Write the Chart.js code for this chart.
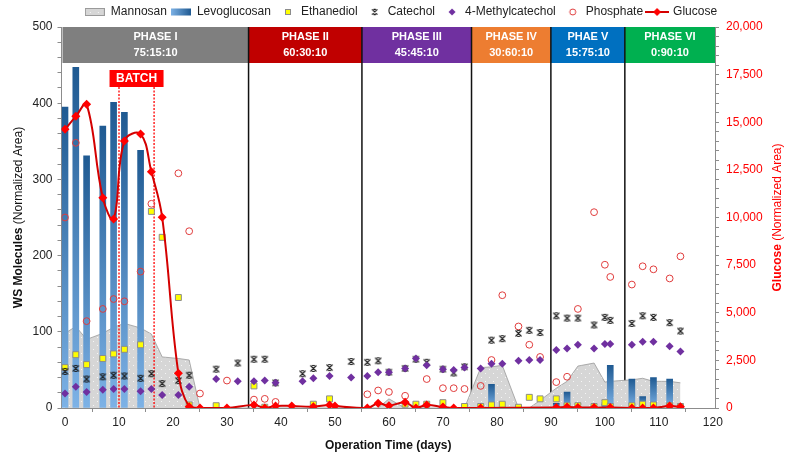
<!DOCTYPE html>
<html>
<head>
<meta charset="utf-8">
<title>WS molecules and glucose per operation phase</title>
<script src="https://cdn.jsdelivr.net/npm/chart.js"></script>
<style>
  body { margin: 0; background: #fff; }
  .chart-box { position: relative; width: 786px; height: 459px; }
</style>
</head>
<body>
<div class="chart-box"><canvas id="phaseChart"></canvas></div>
<script>
const FONT = '"Liberation Sans", Arial, sans-serif';

// axis ticks
const xTicks = [0, 10, 20, 30, 40, 50, 60, 70, 80, 90, 100, 110, 120];
const leftTicks = [0, 100, 200, 300, 400, 500];
const rightTicks = [0, 2500, 5000, 7500, 10000, 12500, 15000, 17500, 20000];

// operating phases (start day, label, feed ratio)
const phaseStart = [0, 34, 55, 75.3, 90, 103.7];
const phaseNames = ['PHASE I', 'PHASE II', 'PHASE III', 'PHASE IV', 'PHAE V', 'PHASE VI'];
const phaseMix = ['75:15:10', '60:30:10', '45:45:10', '30:60:10', '15:75:10', '0:90:10'];
const phaseColors = ['#7f7f7f', '#c00000', '#7030a0', '#ed7d31', '#0070c0', '#00b050'];
const batchDays = [10, 16.5];

// Mannosan (shaded area)
const mannDays = [0, 2, 4, 7, 9, 11, 14, 16, 18, 21, 23, 25, 58, 60, 63, 74, 77, 79, 81, 84, 86, 88, 91, 93, 95, 98, 100, 101, 105, 107, 109, 112, 114];
const mannArea = [98, 107, 90, 98, 106, 111, 105, 97, 67, 65, 63, 0, 0, 12, 0, 0, 53, 54, 56, 0, 0, 10, 26, 35, 55, 59, 34, 35, 37, 39, 35, 35, 33];

// Levoglucosan (bars)
const levoDays = [0, 2, 4, 7, 9, 11, 14, 79, 91, 93, 100, 101, 105, 107, 109, 112];
const levoArea = [395, 447, 331, 370, 401, 388, 338, 31, 6, 21, 5, 56, 38, 15, 40, 38];

// Ethanediol
const ethDays = [0, 2, 4, 7, 9, 11, 14, 16, 18, 21, 23, 28, 35, 37, 46, 49, 63, 65, 67, 70, 74, 77, 79, 81, 84, 86, 88, 91, 93, 95, 98, 100, 101, 105, 107, 109, 112, 114];
const ethArea = [53, 70, 57, 65, 71, 77, 83, 258, 224, 145, 4, 3, 29, 1, 5, 12, 5, 5, 5, 7, 2, 2, 4, 5, 1, 14, 12, 12, 3, 3, 2, 7, 2, 3, 5, 4, 3, 2];

// Catechol
const catDays = [0, 2, 4, 7, 9, 11, 14, 16, 18, 21, 23, 28, 32, 35, 37, 39, 44, 46, 49, 53, 56, 58, 60, 63, 65, 67, 70, 72, 74, 79, 81, 84, 86, 88, 91, 93, 95, 98, 100, 101, 105, 107, 109, 112, 114];
const catArea = [48, 52, 38, 41, 43, 42, 39, 45, 32, 36, 43, 51, 59, 64, 64, 33, 45, 52, 53, 61, 60, 62, 47, 52, 64, 60, 51, 46, 54, 89, 91, 98, 102, 99, 121, 118, 118, 109, 119, 115, 111, 121, 119, 112, 101];

// 4-Methylcatechol
const metDays = [0, 2, 4, 7, 9, 11, 14, 16, 18, 21, 23, 28, 32, 35, 37, 39, 44, 46, 49, 53, 56, 58, 60, 63, 65, 67, 70, 72, 74, 77, 79, 81, 84, 86, 88, 91, 93, 95, 98, 100, 101, 105, 107, 109, 112, 114];
const metArea = [19, 28, 21, 24, 25, 25, 22, 25, 17, 17, 28, 38, 35, 35, 36, 33, 35, 39, 42, 40, 42, 47, 47, 52, 65, 56, 51, 50, 53, 52, 58, 58, 62, 63, 63, 76, 78, 83, 78, 84, 84, 83, 87, 87, 81, 74];

// Phosphate
const phoDays = [0, 2, 4, 7, 9, 11, 14, 16, 21, 23, 25, 30, 35, 37, 39, 56, 58, 60, 63, 67, 70, 72, 74, 77, 79, 81, 84, 86, 88, 91, 93, 95, 98, 100, 101, 105, 107, 109, 112, 114];
const phoArea = [250, 348, 114, 130, 143, 140, 179, 268, 308, 232, 19, 36, 11, 12, 8, 18, 23, 21, 16, 38, 26, 26, 25, 29, 63, 148, 107, 83, 67, 34, 41, 130, 257, 188, 172, 162, 186, 182, 170, 199];

// Glucose (right axis)
const gluDays = [0, 2, 4, 7, 9, 11, 14, 16, 18, 21, 23, 25, 30, 35, 37, 39, 42, 46, 49, 50, 56, 58, 60, 63, 65, 67, 70, 72, 77, 91, 93, 95, 98, 101, 105, 107, 109, 112, 114];
const gluArea = [14630, 15310, 15940, 11040, 9920, 14020, 14380, 12400, 10010, 1820, 70, 0, 0, 160, 0, 105, 105, 70, 160, 105, 0, 245, 120, 300, 0, 160, 50, 0, 0, 30, 50, 30, 20, 20, 0, 0, 0, 100, 60];

const pts = (days, vals) => days.map((d, i) => ({ x: d, y: vals[i] }));
const minorTicks = (max, step) => Array.from({ length: max / step + 1 }, (_, i) => ({ value: i * step }));

// dotted grey fill for the mannosan area
function dotPattern() {
    const c = document.createElement('canvas');
    c.width = 8; c.height = 8;
    const g = c.getContext('2d');
    g.fillStyle = '#d6d6d6';
    g.fillRect(0, 0, 8, 8);
    g.fillStyle = '#f6f6f6';
    g.fillRect(1, 1, 1, 1);
    g.fillRect(5, 5, 1, 1);
    return g.createPattern(c, 'repeat');
}
const mannFill = dotPattern();

// catechol marker: an X with short caps
function drawStar(g, cx, cy, s) {
    g.strokeStyle = '#1a1a1a';
    g.lineWidth = 1.2;
    g.beginPath();
    g.moveTo(cx - s, cy - s); g.lineTo(cx + s, cy + s);
    g.moveTo(cx + s, cy - s); g.lineTo(cx - s, cy + s);
    g.moveTo(cx - s * 0.45, cy - s); g.lineTo(cx + s * 0.45, cy - s);
    g.moveTo(cx - s * 0.45, cy + s); g.lineTo(cx + s * 0.45, cy + s);
    g.stroke();
}

function icon(w, h, draw) {
    const c = document.createElement('canvas');
    c.width = w; c.height = h;
    draw(c.getContext('2d'));
    return c;
}

const starMark = icon(9, 9, g => drawStar(g, 4.5, 4.5, 3));

// legend swatches, one per dataset
const legendIcons = [
    icon(20, 10, g => {
        g.fillStyle = mannFill; g.fillRect(0, 1.5, 20, 7);
        g.strokeStyle = '#9a9a9a'; g.lineWidth = 1; g.strokeRect(0.5, 1.5, 19, 7);
    }),
    icon(20, 10, g => {
        const gr = g.createLinearGradient(0, 0, 20, 0);
        gr.addColorStop(0, '#7db2e6'); gr.addColorStop(1, '#1f5a92');
        g.fillStyle = gr; g.fillRect(0, 1.5, 20, 7);
    }),
    icon(20, 10, g => {
        g.fillStyle = '#ffff00'; g.fillRect(10, 2, 6, 6);
        g.strokeStyle = '#8c8c8c'; g.lineWidth = 1; g.strokeRect(10.5, 2.5, 5, 5);
    }),
    icon(20, 10, g => drawStar(g, 13, 5, 2.6)),
    icon(20, 10, g => {
        g.fillStyle = '#7030a0';
        g.beginPath(); g.moveTo(13, 1.5); g.lineTo(16.5, 5); g.lineTo(13, 8.5); g.lineTo(9.5, 5); g.closePath(); g.fill();
    }),
    icon(20, 10, g => {
        g.strokeStyle = '#e03c3c'; g.lineWidth = 1;
        g.beginPath(); g.arc(13, 5, 3, 0, Math.PI * 2); g.stroke();
    }),
    icon(24, 10, g => {
        g.strokeStyle = '#d40000'; g.lineWidth = 2;
        g.beginPath(); g.moveTo(0, 5); g.lineTo(24, 5); g.stroke();
        g.fillStyle = '#ff0000';
        g.beginPath(); g.moveTo(12, 1); g.lineTo(16, 5); g.lineTo(12, 9); g.lineTo(8, 5); g.closePath(); g.fill();
    })
];

// per-bar vertical gradient, dark at the top
function barGradient(ctx) {
    const chart = ctx.chart;
    const ys = chart.scales.y;
    if (ctx.type !== 'data' || !chart.chartArea || !ys) return '#3f7fbf';
    const top = ys.getPixelForValue(ctx.raw.y);
    const base = ys.getPixelForValue(0);
    const g = chart.ctx.createLinearGradient(0, top, 0, base);
    g.addColorStop(0, '#1f5a92');
    g.addColorStop(1, '#7db2e6');
    return g;
}

// phase header cells and separators
const phaseBands = {
    id: 'phaseBands',
    beforeDatasetsDraw(chart) {
        const { ctx, chartArea: a, scales: { x } } = chart;
        const headH = 36;
        ctx.save();
        ctx.textAlign = 'center';
        ctx.textBaseline = 'middle';
        ctx.font = 'bold 11px ' + FONT;
        for (let i = 0; i < phaseNames.length; i++) {
            const l = i === 0 ? a.left + 1 : x.getPixelForValue(phaseStart[i]);
            const r = i === phaseNames.length - 1 ? a.right : x.getPixelForValue(phaseStart[i + 1]);
            ctx.fillStyle = phaseColors[i];
            ctx.fillRect(l, a.top, r - l, headH);
            ctx.fillStyle = '#ffffff';
            ctx.fillText(phaseNames[i], (l + r) / 2, a.top + 10);
            ctx.fillText(phaseMix[i], (l + r) / 2, a.top + 26);
        }
        ctx.strokeStyle = '#111';
        ctx.lineWidth = 1.5;
        for (let i = 1; i < phaseStart.length; i++) {
            const px = x.getPixelForValue(phaseStart[i]);
            ctx.beginPath();
            ctx.moveTo(px, a.top);
            ctx.lineTo(px, a.bottom);
            ctx.stroke();
        }
        ctx.restore();
    }
};

// batch period: dotted markers behind the bars, label on top
const batchMarks = {
    id: 'batchMarks',
    afterDatasetDraw(chart, args) {
        if (args.index !== 0) return;
        const { ctx, chartArea: a, scales: { x } } = chart;
        ctx.save();
        ctx.strokeStyle = '#ff0000';
        ctx.lineWidth = 1.3;
        ctx.setLineDash([2, 1.5]);
        batchDays.forEach(d => {
            const px = x.getPixelForValue(d);
            ctx.beginPath();
            ctx.moveTo(px, a.top + 60);
            ctx.lineTo(px, a.bottom);
            ctx.stroke();
        });
        ctx.restore();
    },
    afterDatasetsDraw(chart) {
        const { ctx, chartArea: a, scales: { x } } = chart;
        const cx = (x.getPixelForValue(batchDays[0]) + x.getPixelForValue(batchDays[1])) / 2;
        ctx.save();
        ctx.fillStyle = '#ff0000';
        ctx.fillRect(cx - 27, a.top + 43, 54, 17);
        ctx.fillStyle = '#ffffff';
        ctx.font = 'bold 12px ' + FONT;
        ctx.textAlign = 'center';
        ctx.textBaseline = 'middle';
        ctx.fillText('BATCH', cx, a.top + 52);
        ctx.restore();
    }
};

// axis titles (bold name, plain unit)
function mixedTitle(ctx, parts, x, y, rot) {
    ctx.save();
    ctx.translate(x, y);
    ctx.rotate(rot);
    ctx.textBaseline = 'middle';
    ctx.textAlign = 'left';
    let total = 0;
    parts.forEach(p => { ctx.font = p.font; p.w = ctx.measureText(p.text).width; total += p.w; });
    let pos = -total / 2;
    parts.forEach(p => { ctx.font = p.font; ctx.fillStyle = p.color; ctx.fillText(p.text, pos, 0); pos += p.w; });
    ctx.restore();
}

const axisTitles = {
    id: 'axisTitles',
    afterDraw(chart) {
        const { ctx, chartArea: a } = chart;
        const midY = (a.top + a.bottom) / 2;
        mixedTitle(ctx, [
            { text: 'WS Molecules', font: 'bold 12px ' + FONT, color: '#111' },
            { text: ' (Normalized Area)', font: '12px ' + FONT, color: '#111' }
        ], 19, midY, -Math.PI / 2);
        mixedTitle(ctx, [
            { text: 'Glucose', font: 'bold 12px ' + FONT, color: '#ff0000' },
            { text: ' (Normalized Area)', font: '12px ' + FONT, color: '#ff0000' }
        ], 778, midY, -Math.PI / 2);
        mixedTitle(ctx, [
            { text: 'Operation Time (days)', font: 'bold 12px ' + FONT, color: '#111' }
        ], (a.left + a.right) / 2, 446, 0);
    }
};

const tickFont = { family: FONT, size: 12 };
const axisGrey = '#8c8c8c';

new Chart(document.getElementById('phaseChart'), {
    type: 'line',
    data: {
        datasets: [
            {
                label: 'Mannosan', type: 'line', data: pts(mannDays, mannArea),
                fill: 'origin', backgroundColor: mannFill, borderColor: '#9a9a9a', borderWidth: 0.8,
                pointRadius: 0, tension: 0, order: 10
            },
            {
                label: 'Levoglucosan', type: 'bar', data: pts(levoDays, levoArea),
                backgroundColor: barGradient, barThickness: 6, borderWidth: 0, order: 9
            },
            {
                label: 'Ethanediol', type: 'scatter', data: pts(ethDays, ethArea),
                pointStyle: 'rect', pointRadius: 4.2, backgroundColor: '#ffff00',
                borderColor: '#8c8c8c', borderWidth: 1, order: 4
            },
            {
                label: 'Catechol', type: 'scatter', data: pts(catDays, catArea),
                pointStyle: starMark, pointRadius: 4, order: 3
            },
            {
                label: '4-Methylcatechol', type: 'scatter', data: pts(metDays, metArea),
                pointStyle: 'rectRot', pointRadius: 4, backgroundColor: '#7030a0',
                borderColor: '#7030a0', borderWidth: 0, order: 2
            },
            {
                label: 'Phosphate', type: 'scatter', data: pts(phoDays, phoArea),
                pointStyle: 'circle', pointRadius: 3.4, backgroundColor: 'rgba(255,255,255,0)',
                borderColor: '#e03c3c', borderWidth: 1, order: 5
            },
            {
                label: 'Glucose', type: 'line', yAxisID: 'y2', data: pts(gluDays, gluArea),
                borderColor: '#d40000', borderWidth: 2, tension: 0.4, fill: false,
                pointStyle: 'rectRot', pointRadius: 4.5, pointBackgroundColor: '#ff0000',
                pointBorderWidth: 0, order: 1
            }
        ]
    },
    options: {
        responsive: true,
        maintainAspectRatio: false,
        animation: false,
        layout: { padding: { left: 16, right: 0, top: 2, bottom: 0 } },
        plugins: {
            tooltip: { enabled: false },
            legend: {
                position: 'top',
                maxHeight: 25,
                labels: {
                    usePointStyle: true,
                    pointStyleWidth: 20,
                    padding: 4,
                    color: '#222',
                    font: { family: FONT, size: 12 },
                    sort: (a, b) => a.datasetIndex - b.datasetIndex,
                    generateLabels: chart => Chart.defaults.plugins.legend.labels.generateLabels(chart)
                        .map(item => Object.assign(item, { pointStyle: legendIcons[item.datasetIndex] }))
                }
            }
        },
        scales: {
            x: {
                type: 'linear', min: -0.65, max: 120.4, offset: false,
                afterBuildTicks: s => { s.ticks = xTicks.map(v => ({ value: v })); },
                ticks: { autoSkip: false, maxRotation: 0, padding: 3, color: '#222', font: tickFont },
                grid: { drawOnChartArea: false, tickLength: 4, color: axisGrey },
                border: { color: axisGrey },
                afterFit: s => { s.height = 51; }
            },
            y: {
                position: 'left', min: 0, max: 500,
                afterBuildTicks: s => { s.ticks = minorTicks(500, 20); },
                ticks: {
                    autoSkip: false, padding: 5, color: '#222', font: tickFont,
                    callback: v => leftTicks.includes(v) ? String(v) : ''
                },
                grid: { drawOnChartArea: false, tickLength: 4, color: axisGrey },
                border: { color: axisGrey },
                afterFit: s => { s.width = 45.5; }
            },
            y2: {
                position: 'right', min: 0, max: 20000,
                afterBuildTicks: s => { s.ticks = minorTicks(20000, 500); },
                ticks: {
                    autoSkip: false, padding: 7, color: '#ff0000', font: tickFont,
                    callback: v => rightTicks.includes(v) ? v.toLocaleString('en-US') : ''
                },
                grid: { drawOnChartArea: false, tickLength: 4, color: axisGrey },
                border: { color: axisGrey },
                afterFit: s => { s.width = 71; }
            }
        }
    },
    plugins: [phaseBands, batchMarks, axisTitles]
});
</script>
</body>
</html>
